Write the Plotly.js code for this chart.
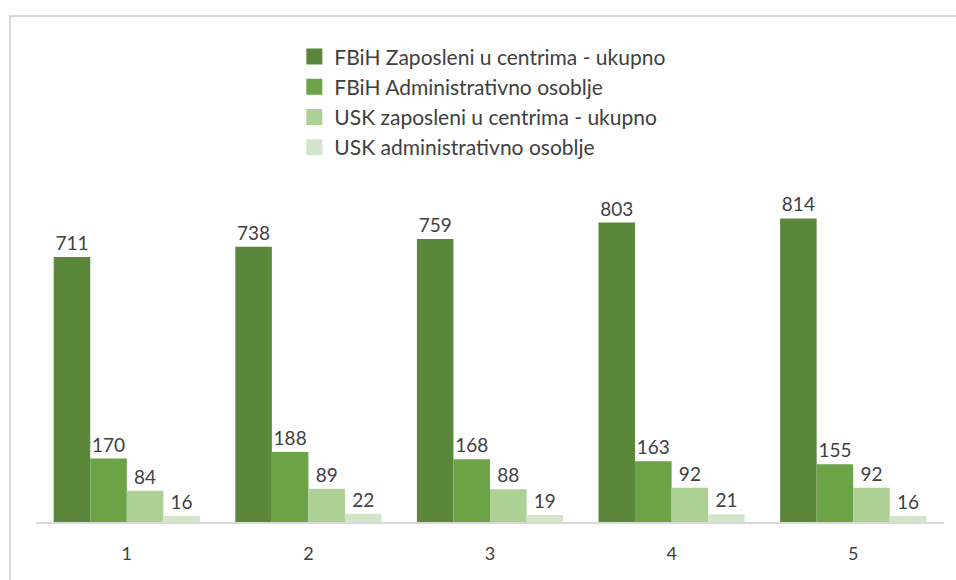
<!DOCTYPE html>
<html>
<head>
<meta charset="utf-8">
<script src="https://cdn.plot.ly/plotly-3.0.1.min.js"></script>
<style>
  html, body { margin: 0; padding: 0; background: #fff; }
  #wrap { position: relative; width: 956px; height: 580px; overflow: hidden; }
  #chart { width: 956px; height: 580px; }
  #frame { position: absolute; left: 9px; top: 15px; width: 960px; height: 580px;
           border-left: 2px solid #d9d9d9; border-top: 2px solid #d9d9d9; pointer-events: none; }
</style>
</head>
<body>
<div id="wrap">
  <div id="chart"></div>
  <div id="frame"></div>
</div>
<script>
const categories = ["1", "2", "3", "4", "5"];
const seriesNames = [
  "FBiH Zaposleni u centrima - ukupno",
  "FBiH Administrativno osoblje",
  "USK zaposleni u centrima - ukupno",
  "USK administrativno osoblje"
];
const fbihTotal = [711, 738, 759, 803, 814];
const fbihAdmin = [170, 188, 168, 163, 155];
const uskTotal = [84, 89, 88, 92, 92];
const uskAdmin = [16, 22, 19, 21, 16];
const colors = ["#5B873B", "#6CA346", "#ADD095", "#D3E5C8"];

const seriesValues = [fbihTotal, fbihAdmin, uskTotal, uskAdmin];
const fontFam = "Lato, 'Open Sans', sans-serif";

const barTraces = seriesValues.map((vals, i) => ({
  type: "bar",
  name: seriesNames[i],
  x: categories,
  y: vals,
  marker: { color: colors[i] },
  text: vals.map(String),
  textposition: "outside",
  cliponaxis: false,
  textfont: { family: fontFam, size: 19, color: "#404040" },
  showlegend: false,
  legendgroup: "g" + i,
  hoverinfo: "x+y+name"
}));

// legend-only entries (larger square swatches)
const legendTraces = seriesNames.map((name, i) => ({
  type: "scatter",
  mode: "markers",
  name: name,
  x: [null],
  y: [null],
  marker: { symbol: "square", size: 19, color: colors[i] },
  legendgroup: "g" + i,
  showlegend: true,
  hoverinfo: "skip"
}));

const layout = {
  width: 956,
  height: 580,
  margin: { l: 36, r: 12, t: 170, b: 58 },
  paper_bgcolor: "#ffffff",
  plot_bgcolor: "#ffffff",
  barmode: "group",
  bargap: 0.195,
  bargroupgap: 0,
  showlegend: true,
  legend: {
    x: 0.2845, y: 1.38, xanchor: "left", yanchor: "top",
    orientation: "v",
    font: { family: fontFam, size: 21, color: "#404040" },
    traceorder: "normal",
    itemsizing: "trace",
    itemwidth: 30,
    tracegroupgap: 0
  },
  xaxis: {
    type: "category",
    showgrid: false,
    showline: true,
    linecolor: "#d9d9d9",
    linewidth: 2,
    ticks: "",
    ticklabelstandoff: 14,
    tickfont: { family: fontFam, size: 18, color: "#404040" },
    zeroline: false,
    fixedrange: true
  },
  yaxis: {
    range: [0, 944],
    showgrid: false,
    showline: false,
    showticklabels: false,
    zeroline: false,
    ticks: "",
    fixedrange: true
  },
  font: { family: fontFam, color: "#404040" }
};

Plotly.newPlot("chart", barTraces.concat(legendTraces), layout, { displayModeBar: false, staticPlot: true });
</script>
</body>
</html>
